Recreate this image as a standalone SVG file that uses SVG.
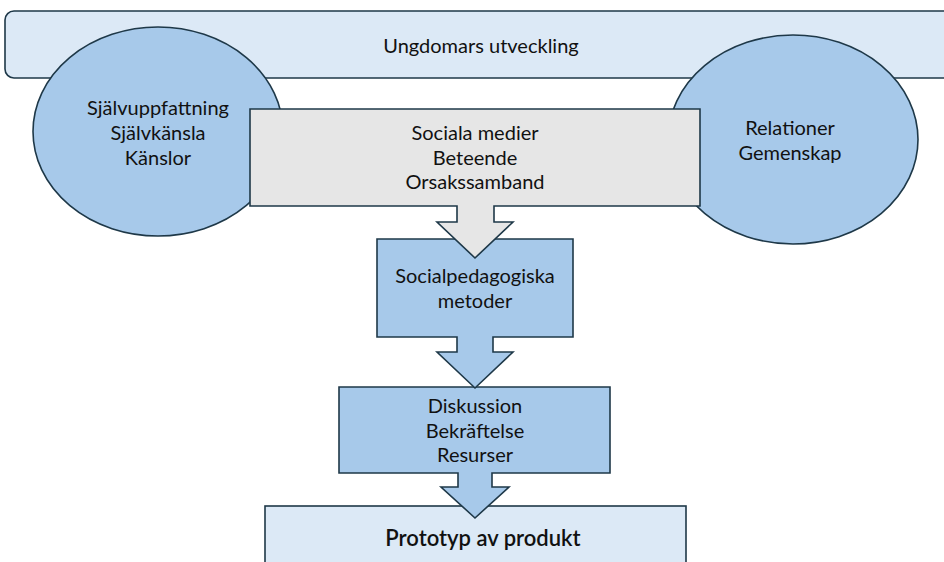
<svg xmlns="http://www.w3.org/2000/svg" width="944" height="562" viewBox="0 0 944 562">
<style>
.s{stroke:#1e3848;stroke-width:1.6;stroke-linejoin:miter}
.blue{fill:#a7c9ea}
.light{fill:#dce9f6}
.gray{fill:#e6e6e6}
text{font-family:Lato,"Noto Sans",sans-serif;font-size:20px;fill:#111;text-anchor:middle}
.b{font-weight:600;font-size:22px}
</style>
<rect width="944" height="562" fill="#fff"/>
<g id="banner"><rect class="s light" x="5" y="11" width="980" height="67" rx="9"/><text x="481" y="53">Ungdomars utveckling</text></g>
<g id="left-ellipse"><ellipse class="s blue" cx="158" cy="131.5" rx="125" ry="104.5"/><text x="158" y="115">Självuppfattning</text><text x="158" y="140">Självkänsla</text><text x="158" y="165">Känslor</text></g>
<g id="right-ellipse"><ellipse class="s blue" cx="793" cy="139.5" rx="125" ry="104.5"/><text x="790" y="135">Relationer</text><text x="790" y="160">Gemenskap</text></g>
<g id="prototyp"><rect class="s light" x="265" y="506" width="421" height="80"/><text class="b" x="483" y="546">Prototyp av produkt</text></g>
<g id="diskussion"><polygon class="s blue" points="339,387 610,387 610,473 492,473 492,487 509,487 475,518 441,487 458,487 458,473 339,473"/><text x="475" y="413">Diskussion</text><text x="475" y="438">Bekräftelse</text><text x="475" y="462">Resurser</text></g>
<g id="socialpedagogiska"><polygon class="s blue" points="377,239 573,239 573,337 493,337 493,352 513,352 475,388 437,352 457,352 457,337 377,337"/><text x="475" y="283">Socialpedagogiska</text><text x="475" y="308">metoder</text></g>
<g id="sociala-medier"><polygon class="s gray" points="250,109 700,109 700,206 494,206 494,222 513,222 475,258 437,222 457,222 457,206 250,206"/><text x="475" y="140">Sociala medier</text><text x="475" y="165">Beteende</text><text x="475" y="189">Orsakssamband</text></g>
<g id="connectors"></g>
</svg>
